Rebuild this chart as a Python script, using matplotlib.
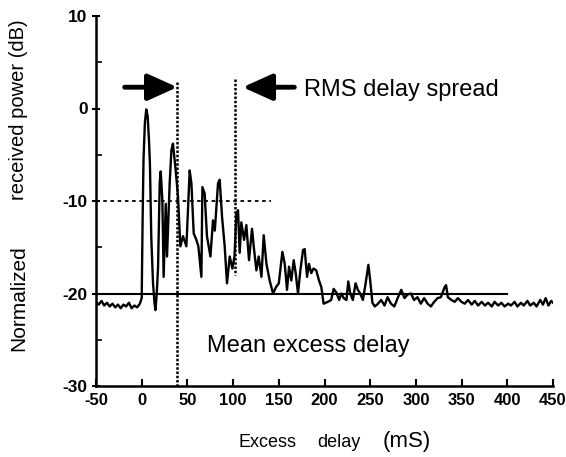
import matplotlib.pyplot as plt
from matplotlib.ticker import MultipleLocator

# excess delay (mS) and normalized received power (dB)
delay = [-50, -47, -44, -41, -38, -35, -32, -29, -26, -23, -20, -17, -14, -11, -8, -5, -2,
         0, 1, 2, 3.5, 5, 6.5, 8, 9, 10.5, 12.4, 14, 15, 16.5, 17.9, 19.7, 20.8, 22.6, 24,
         26.3, 27.7, 30.6, 32.5, 34.2, 37.2, 39.7, 42.3, 45.2, 48.9, 52.5, 54.4, 56.9, 59.8,
         62, 65.3, 66.4, 68.9, 71.4, 75.2, 78, 80, 83.5, 85.3, 87.9, 90.8, 93.3, 96.3, 99.2,
         101.5, 103.6, 105.4, 107.2, 109, 112, 114.5, 117.4, 120.7, 123, 125.5, 128, 131,
         133.5, 136.5, 140, 143.7, 147, 150, 153.9, 156.5, 159, 161.2, 163.7, 166.3, 168.5,
         171, 173.6, 176.5, 178.3, 180.9, 183, 185.5, 188, 191, 194, 196.5, 199, 203.7, 207.3,
         210, 213, 216, 218.5, 221, 224, 226, 228.2, 231, 234, 236.5, 239, 242, 245, 248, 250,
         252.4, 255, 258.6, 262, 265.7, 269, 272.7, 276.4, 280, 284, 287.5, 291, 294.6, 298,
         301.7, 305.4, 309, 312.8, 316.4, 320, 323.7, 327.3, 331.5, 333, 335, 338.8, 342.5,
         346, 349.8, 353.4, 357, 361, 364.5, 368, 372, 375.5, 379, 383, 386, 390, 393.5, 397,
         401, 404, 408, 411, 415, 418, 422, 425, 429, 432, 436, 439, 442, 445, 448, 450]
power = [-20.9, -21.2, -20.8, -21.3, -21.0, -21.4, -21.1, -21.5, -21.2, -21.6, -21.2, -21.4,
         -21.0, -21.6, -21.3, -21.5, -21.1,
         -20.5, -12, -5.5, -1.5, -0.1, -0.8, -3.5, -6, -14, -18.9, -21, -21.8, -20, -17.1,
         -8.1, -6.8, -9.9, -18.2, -10.3, -16, -8.1, -4.5, -3.8, -6.7, -9.5, -14.9, -13.8,
         -14.9, -6.7, -8.1, -13.5, -14.2, -14.9, -18.2, -8.5, -9.2, -13.8, -16, -12.1, -13.2,
         -8.1, -7.7, -11.7, -14.9, -18.9, -16, -17.3, -16, -11.4, -11, -15.6, -12.3, -14.2,
         -12.6, -16.4, -13, -15.3, -17.5, -16, -18.2, -13.7, -16.8, -18.6, -20, -19.3, -18.9,
         -15.5, -16.8, -19.6, -17.1, -18.6, -16.4, -17.8, -20, -17.5, -15.3, -15.2, -18.2,
         -16.8, -17.8, -17.3, -17.5, -18.6, -19.3, -21.1, -20.9, -20.7, -19.5, -19.9, -20.7,
         -20.0, -20.5, -20.7, -18.7, -20, -20.7, -18.9, -19.6, -20, -20.7, -18.9, -16.9, -18.6,
         -21, -21.4, -21.1, -20.7, -21.3, -20.4, -21.1, -21.4, -20.5, -19.6, -20.5, -20.1, -20,
         -20.7, -20.4, -21.1, -20.5, -21.1, -21.4, -20.9, -20.5, -20.4, -19.3, -19.1, -20.4,
         -20.7, -20.9, -20.5, -20.9, -21.1, -20.7, -21.2, -20.8, -21.3, -20.9, -21.3, -21.0,
         -21.4, -20.9, -21.3, -21.0, -21.4, -21.1, -21.3, -20.9, -21.4, -21.0, -21.3, -20.8,
         -21.3, -21.0, -21.4, -20.7, -21.2, -20.5, -21.3, -20.8, -21.0]

x_ticks = [-50, 0, 50, 100, 150, 200, 250, 300, 350, 400, 450]
y_ticks = [-30, -20, -10, 0, 10]
mean_delay = 39
rms_edge = 102.5

plt.rcParams['font.family'] = ['Liberation Sans', 'DejaVu Sans']

fig = plt.figure(figsize=(5.66, 4.57), dpi=100)
ax = fig.add_axes([96/566, 71/457, 457/566, 370/457])

ax.plot(delay, power, color='black', lw=1.7)
ax.plot([-50, 400], [-20, -20], color='black', lw=1.5)
ax.plot([-50, 142], [-10, -10], color='black', lw=1.3, ls=(0, (2, 2)))
ax.plot([mean_delay, mean_delay], [2.9, -30], color='black', lw=1.8, ls=(0, (1, 0.7)))
ax.plot([rms_edge, rms_edge], [3.2, -18], color='black', lw=1.8, ls=(0, (1, 0.7)))

arrow = dict(arrowstyle='-|>,head_length=1.0,head_width=0.45', lw=3.5, color='black',
             mutation_scale=18, shrinkA=0, shrinkB=0)
ax.annotate('', xy=(mean_delay, 2.3), xytext=(-18.6, 2.3), arrowprops=arrow)
ax.annotate('', xy=(110.5, 2.3), xytext=(167, 2.3), arrowprops=arrow)

ax.text(178, 1.3, 'RMS delay spread', fontsize=17, va='baseline', ha='left')
ax.text(71, -26.3, 'Mean excess delay', fontsize=17, va='baseline', ha='left')

ax.set_xlim(-50, 450)
ax.set_ylim(-30, 10)
ax.set_xticks(x_ticks)
ax.set_yticks(y_ticks)
ax.yaxis.set_minor_locator(MultipleLocator(5))
ax.set_xticklabels([str(t) for t in x_ticks], fontweight='bold', fontsize=12)
ax.set_yticklabels([str(t) for t in y_ticks], fontweight='bold', fontsize=12.5)
ax.tick_params(axis='x', direction='in', length=5, width=1.5, pad=5)
ax.tick_params(axis='y', which='major', direction='inout', length=6, width=1.5, pad=3)
ax.tick_params(axis='y', which='minor', direction='in', length=4, width=1.2)
for s in ['top', 'right']:
    ax.spines[s].set_visible(False)
for s in ['left', 'bottom']:
    ax.spines[s].set_linewidth(1.8)

ybase = 1 - 447/457
fig.text(238/566, ybase, 'Excess', fontsize=13, ha='left', va='baseline')
fig.text(317/566, ybase, 'delay', fontsize=13, ha='left', va='baseline')
fig.text(383/566, ybase, '(mS)', fontsize=16, ha='left', va='baseline')
fig.text(19/566, 1 - 298/457, 'Normalized', fontsize=15, rotation=90, ha='center', va='center')
fig.text(19/566, 1 - 110/457, 'received power (dB)', fontsize=14.5, rotation=90,
         ha='center', va='center')

fig.savefig('out.png', dpi=100)
